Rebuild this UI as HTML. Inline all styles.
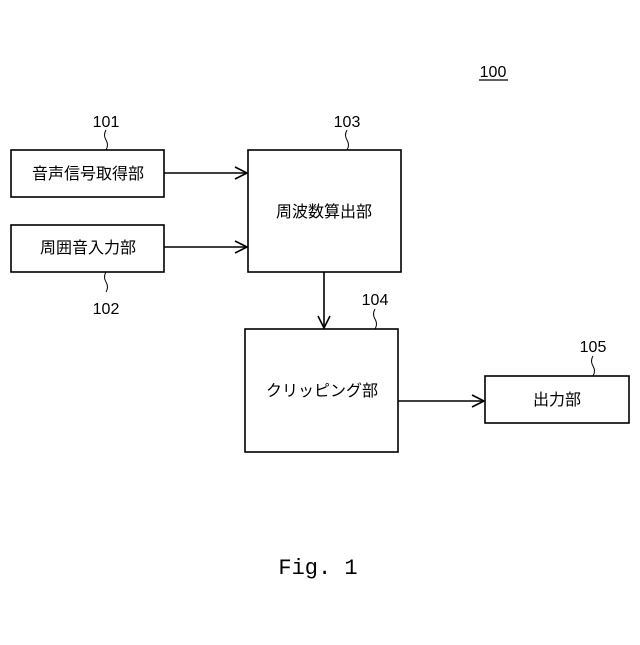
<!DOCTYPE html>
<html><head><meta charset="utf-8"><style>
body{margin:0;background:#fff;}
svg text{font-family:"Liberation Sans","Noto Sans CJK JP",sans-serif;fill:#000;}
</style></head><body>
<svg width="640" height="640" viewBox="0 0 640 640" xmlns="http://www.w3.org/2000/svg">
<g fill="none" stroke="#000" stroke-width="1.6">
<rect x="11" y="150" width="153" height="47"/>
<rect x="11" y="225" width="153" height="47"/>
<rect x="248" y="150" width="153" height="122"/>
<rect x="245" y="329" width="153" height="123"/>
<rect x="485" y="376" width="144" height="47"/>
<line x1="164" y1="173" x2="247" y2="173"/>
<polyline points="235,167 247,173 235,179"/>
<line x1="164" y1="247" x2="247" y2="247"/>
<polyline points="235,241 247,247 235,253"/>
<line x1="324" y1="272" x2="324" y2="328"/>
<polyline points="318,316 324,328 330,316"/>
<line x1="398" y1="401" x2="484" y2="401"/>
<polyline points="472,395 484,401 472,407"/>
<path d="M106,130 q-3,5 0,10 q3,5 0,10" stroke-width="1"/>
<path d="M106,272 q-3,5 0,10 q3,5 0,10" stroke-width="1"/>
<path d="M347,130 q-3,5 0,10 q3,5 0,10" stroke-width="1"/>
<path d="M375,309 q-3,5 0,10 q3,5 0,10" stroke-width="1"/>
<path d="M593,356 q-3,5 0,10 q3,5 0,10" stroke-width="1"/>
<line x1="479" y1="80" x2="508" y2="80" stroke-width="1.2"/>
</g>
<g font-size="16" text-anchor="middle">
<text x="88" y="179">音声信号取得部</text>
<text x="88" y="253">周囲音入力部</text>
<text x="324" y="217">周波数算出部</text>
<text x="322" y="396">クリッピング部</text>
<text x="557" y="405">出力部</text>
</g>
<g font-size="16" text-anchor="middle">
<text x="106" y="127">101</text>
<text x="106" y="314">102</text>
<text x="347" y="127">103</text>
<text x="375" y="305">104</text>
<text x="593" y="352">105</text>
<text x="493" y="77">100</text>
</g>
<text x="318" y="574" font-size="22" text-anchor="middle" style="font-family:'Liberation Mono',monospace">Fig. 1</text>
</svg>
</body></html>
